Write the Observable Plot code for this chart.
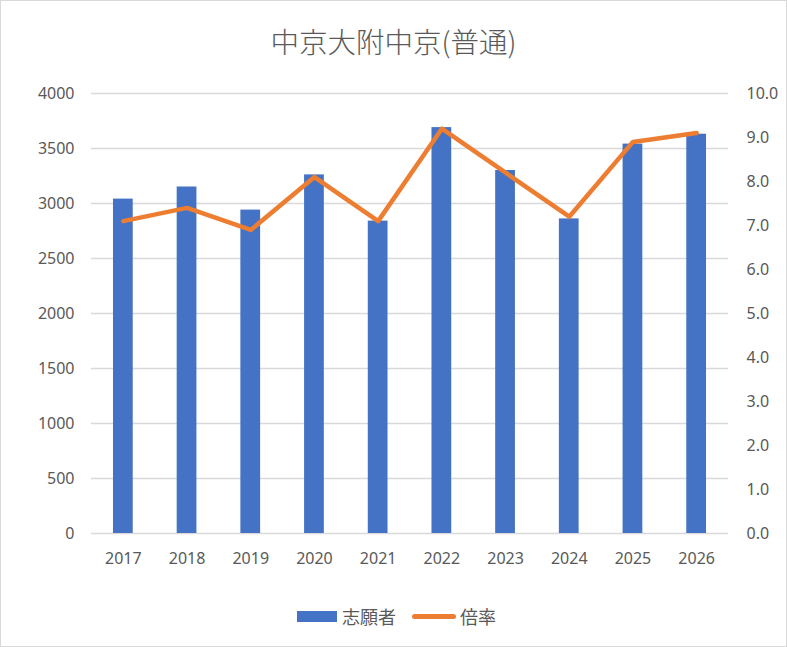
<!DOCTYPE html>
<html>
<head>
<meta charset="utf-8">
<script src="https://cdn.jsdelivr.net/npm/d3@7"></script>
<script src="https://cdn.jsdelivr.net/npm/@observablehq/plot@0.6"></script>
<style>
  html, body { margin: 0; padding: 0; background: #fff; }
  #chart { position: relative; width: 785px; height: 645px; border: 1px solid #d9d9d9; background: #fff; font-family: "Noto Sans CJK JP", "Noto Sans", sans-serif; overflow: hidden; }
  #title { position: absolute; left: 0; width: 785px; top: 26px; text-align: center; font-size: 28.5px; line-height: 1; color: #595959; font-family: "Noto Sans CJK JP", sans-serif; font-weight: 300; }
  #plot { position: absolute; left: 0; top: 70px; }
  #legend { position: absolute; left: 3px; width: 785px; top: 603px; display: flex; justify-content: center; align-items: center; font-size: 18px; color: #595959; line-height: 24px; }
  .sw-bar { width: 40px; height: 11px; background: #4472c4; margin-right: 5px; }
  .sw-line { width: 44px; height: 5px; border-radius: 3px; background: #ed7d31; margin-right: 4px; margin-left: 16px; }
</style>
</head>
<body>
<div id="chart">
  <div id="title">中京大附中京(普通)</div>
  <div id="plot"></div>
  <div id="legend"><span class="sw-bar"></span><span>志願者</span><span class="sw-line"></span><span>倍率</span></div>
</div>
<script>
const years = ["2017","2018","2019","2020","2021","2022","2023","2024","2025","2026"];
const applicants = [3040, 3150, 2940, 3260, 2840, 3690, 3300, 2860, 3540, 3630];
const ratio = [7.1, 7.4, 6.9, 8.1, 7.1, 9.2, 8.2, 7.2, 8.9, 9.1];
const leftTicks = [0, 500, 1000, 1500, 2000, 2500, 3000, 3500, 4000];
const rightTicks = [0, 1, 2, 3, 4, 5, 6, 7, 8, 9, 10];

const seriesNames = ["志願者", "倍率"];
const factor = 400; // right axis 10.0 ↔ left axis 4000

const data = years.map((y, i) => ({year: y, applicants: applicants[i], ratio: ratio[i], ratioScaled: ratio[i] * factor}));

const chart = Plot.plot({
  width: 785,
  height: 510,
  marginTop: 22,
  marginBottom: 48,
  marginLeft: 90,
  marginRight: 58,
  style: {fontFamily: "'Noto Sans', sans-serif", fontSize: "16px", color: "#595959", background: "transparent"},
  x: {domain: years, paddingInner: 0.69, paddingOuter: 0.345, round: false, label: null},
  y: {domain: [0, 4000], label: null},
  marks: [
    Plot.gridY(leftTicks, {stroke: "#d9d9d9", strokeOpacity: 1, strokeWidth: 1.3}),
    Plot.barY(data, {x: "year", y: "applicants", fill: "#4472c4"}),
    Plot.line(data, {x: "year", y: "ratioScaled", stroke: "#ed7d31", strokeWidth: 4.5, strokeLinejoin: "round", strokeLinecap: "round"}),
    Plot.axisY(leftTicks, {anchor: "left", tickSize: 0, tickPadding: 17, fill: "#595959", fontSize: 16, label: null, tickFormat: d => String(d)}),
    Plot.axisY(rightTicks.map(d => d * factor), {anchor: "right", tickSize: 0, tickPadding: 18, fill: "#595959", fontSize: 16, label: null, tickFormat: d => (d / factor).toFixed(1)}),
    Plot.axisX({tickSize: 0, tickPadding: 19, fill: "#595959", fontSize: 16, label: null})
  ]
});
document.getElementById("plot").appendChild(chart);
</script>
</body>
</html>
